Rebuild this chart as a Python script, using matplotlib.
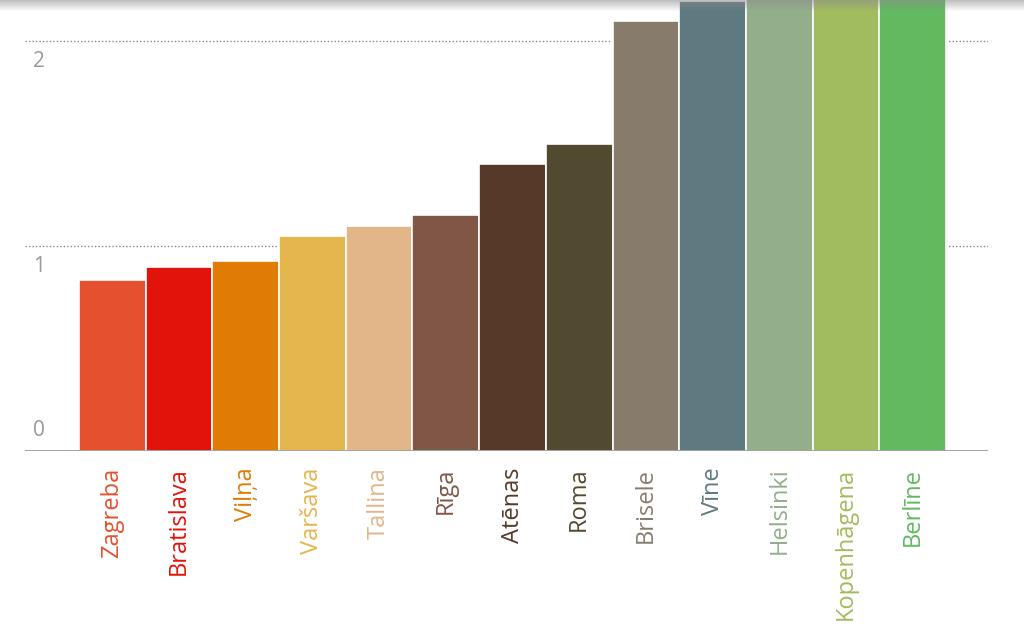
import matplotlib
matplotlib.use("Agg")
import matplotlib.pyplot as plt
import numpy as np
from matplotlib import font_manager

cities = ["Zagreba", "Bratislava", "Viļņa", "Varšava", "Tallina", "Rīga", "Atēnas",
          "Roma", "Brisele", "Vīne", "Helsinki", "Kopenhāgena", "Berlīne"]
values = [0.834, 0.898, 0.927, 1.049, 1.098, 1.151, 1.400, 1.498, 2.098, 2.195, 2.26, 2.32, 2.40]
colors = ["#E5502F", "#E0140B", "#E07B04", "#E3B64E", "#E3B68A", "#805646", "#57392A",
          "#524A30", "#877C6C", "#5F7980", "#93AF8A", "#A0BC5E", "#62B960"]
ytick_vals = [0, 1, 2]
ytick_labels = ["0", "1", "2"]

avail = {f.name for f in font_manager.fontManager.ttflist}
fam = [f for f in ["Liberation Sans Narrow", "Open Sans", "DejaVu Sans"] if f in avail]
plt.rcParams['font.family'] = fam

fig = plt.figure(figsize=(10.24, 6.31), dpi=100)
ax = fig.add_axes([25/1024, 180/631, (988-25)/1024, 451/631])
x = np.arange(len(cities))
ax.bar(x, values, width=1.0, color=colors, edgecolor="white", linewidth=1.2, zorder=3)
ax.set_xlim(-1.31, 13.13)
ax.set_ylim(0, 2.2)
for s in ax.spines.values():
    s.set_visible(False)
ax.set_xticks([])
ax.set_yticks([])
# gridlines
for v in ytick_vals[1:]:
    ax.axhline(v, color="#888888", linestyle=(0, (1, 1.5)), linewidth=1.0, zorder=1)
ax.axhline(0, color="#999999", linewidth=2, zorder=4)

# y labels
for v, lab in zip(ytick_vals, ytick_labels):
    off = 7 if v == 0 else -7
    va = "bottom" if v == 0 else "top"
    ax.annotate(lab, xy=(0, v), xycoords=("axes fraction", "data"),
                xytext=(6, off), textcoords="offset points",
                ha="left", va=va, fontsize=15, color="#999999")

# category labels
for xi, name, c in zip(x, cities, colors):
    ax.annotate(name, xy=(xi, 0), xycoords="data", xytext=(0, -12),
                textcoords="offset points", rotation=90, ha="center", va="top",
                fontsize=17, color=c, annotation_clip=False)

# top shadow
sh = fig.add_axes([0, 1 - 12/631, 1, 12/631])
grad = np.zeros((12, 2, 4))
grad[..., :3] = 0.55
grad[..., 3] = np.linspace(0.55, 0.0, 12)[:, None]
sh.imshow(grad, aspect="auto", extent=(0, 1, 0, 1))
sh.axis("off")

fig.savefig("out.png", dpi=100)
